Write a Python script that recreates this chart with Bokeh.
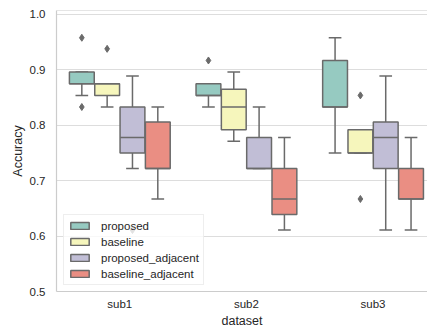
from bokeh.plotting import figure
from bokeh.models import ColumnDataSource, Range1d, FixedTicker, Span, Legend, LegendItem
from bokeh.embed import file_html
from bokeh.resources import INLINE

categories = ["sub1", "sub2", "sub3"]
series = ["proposed", "baseline", "proposed_adjacent", "baseline_adjacent"]
colors = ["#96cac1", "#f6f6bc", "#c1bed6", "#ea8e83"]
y_ticks = [0.5, 0.6, 0.7, 0.8, 0.9, 1.0]
y_tick_labels = ["0.5", "0.6", "0.7", "0.8", "0.9", "1.0"]

# rows: series, columns: categories
whisker_low = [
    [0.854, 0.833, 0.750],
    [0.833, 0.771, 0.750],
    [0.722, 0.722, 0.611],
    [0.667, 0.611, 0.611],
]
q1 = [
    [0.875, 0.854, 0.833],
    [0.854, 0.792, 0.750],
    [0.750, 0.722, 0.722],
    [0.722, 0.639, 0.667],
]
median = [
    [0.875, 0.854, 0.833],
    [0.875, 0.833, 0.750],
    [0.778, 0.722, 0.778],
    [0.722, 0.667, 0.667],
]
q3 = [
    [0.896, 0.875, 0.917],
    [0.875, 0.865, 0.792],
    [0.833, 0.778, 0.806],
    [0.806, 0.722, 0.722],
]
whisker_high = [
    [0.896, 0.875, 0.958],
    [0.875, 0.896, 0.792],
    [0.889, 0.833, 0.889],
    [0.833, 0.778, 0.778],
]
outliers = [
    [[0.958, 0.833], [0.917], []],
    [[0.938], [], [0.854, 0.667]],
    [[0.611], [], []],
    [[], [], []],
]

GRAY = "#6a6a6a"
GRID = "#dddddd"
TEXT = "#262626"
FONT = "Liberation Sans"
BOX_W = 0.196
CAP_W = 0.1
LW = 1.5
Y_TOP = 1.0072

p = figure(width=427, height=330, x_range=Range1d(-0.5, 2.43), y_range=Range1d(0.5, Y_TOP),
           output_backend="svg", toolbar_location=None,
           min_border_left=56, min_border_right=0, min_border_top=10, min_border_bottom=38)
p.outline_line_color = None
p.background_fill_color = "white"

p.xgrid.visible = False
p.ygrid.grid_line_color = GRID
p.ygrid.grid_line_width = 1.2
p.ygrid.ticker = FixedTicker(ticks=y_ticks)

p.xaxis.ticker = FixedTicker(ticks=list(range(len(categories))))
p.xaxis.major_label_overrides = {i: c for i, c in enumerate(categories)}
p.yaxis.ticker = FixedTicker(ticks=y_ticks)
p.yaxis.major_label_overrides = {t: l for t, l in zip(y_ticks, y_tick_labels)}
for ax in (p.xaxis[0], p.yaxis[0]):
    ax.axis_line_color = "#cccccc"
    ax.axis_line_width = 1.2
    ax.major_tick_line_color = None
    ax.minor_tick_line_color = None
    ax.major_tick_out = 0
    ax.major_tick_in = 0
    ax.minor_tick_out = 0
    ax.minor_tick_in = 0
    ax.major_label_text_font = FONT
    ax.major_label_text_font_size = "11.5px"
    ax.major_label_text_color = TEXT
    ax.axis_label_text_font = FONT
    ax.axis_label_text_font_size = "12.5px"
    ax.axis_label_text_font_style = "normal"
    ax.axis_label_text_color = TEXT
p.xaxis.axis_label = "dataset"
p.yaxis.axis_label = "Accuracy"
p.xaxis.major_label_standoff = 6
p.xaxis.axis_label_standoff = 1
p.yaxis.major_label_standoff = 11
p.yaxis.axis_label_standoff = 2

p.add_layout(Span(location=Y_TOP, dimension="width", line_color="#cccccc", line_width=1.2))

n = len(series)
items = []
for j, name in enumerate(series):
    off = (j - (n - 1) / 2) * 0.2
    xs = [i + off for i in range(len(categories))]
    src = ColumnDataSource(dict(
        x=xs, lo=whisker_low[j], q1=q1[j], med=median[j], q3=q3[j], hi=whisker_high[j],
        cl=[x - CAP_W / 2 for x in xs], cr=[x + CAP_W / 2 for x in xs],
        bl=[x - BOX_W / 2 for x in xs], br=[x + BOX_W / 2 for x in xs],
    ))
    p.segment(x0="x", y0="q3", x1="x", y1="hi", source=src, line_color=GRAY, line_width=LW)
    p.segment(x0="x", y0="q1", x1="x", y1="lo", source=src, line_color=GRAY, line_width=LW)
    p.segment(x0="cl", y0="hi", x1="cr", y1="hi", source=src, line_color=GRAY, line_width=LW)
    p.segment(x0="cl", y0="lo", x1="cr", y1="lo", source=src, line_color=GRAY, line_width=LW)
    r = p.vbar(x="x", width=BOX_W, top="q3", bottom="q1", source=src,
               fill_color=colors[j], line_color=GRAY, line_width=LW)
    p.segment(x0="bl", y0="med", x1="br", y1="med", source=src, line_color=GRAY, line_width=LW)
    ox, oy = [], []
    for i in range(len(categories)):
        for v in outliers[j][i]:
            ox.append(i + off)
            oy.append(v)
    if ox:
        p.scatter(ox, oy, marker="diamond", size=7, fill_color=GRAY, line_color=GRAY)
    items.append(LegendItem(label=name, renderers=[r]))

legend = Legend(items=items, location=(7, 6), margin=0, padding=4, spacing=3,
                label_height=13, glyph_height=9, glyph_width=23, label_standoff=10,
                label_text_font=FONT, label_text_font_size="11.5px", label_text_color=TEXT,
                background_fill_alpha=0.8, border_line_color="#dddddd", border_line_width=1)
p.add_layout(legend)

open("out.html", "w").write(file_html(p, INLINE))
